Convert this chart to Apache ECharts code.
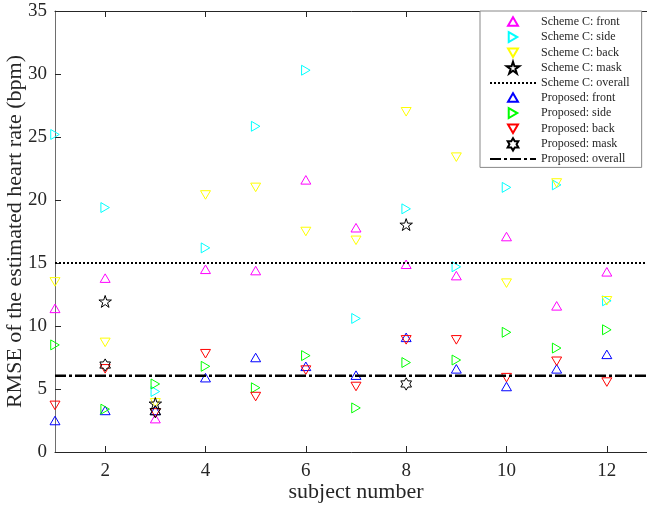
<!DOCTYPE html>
<html>
<head>
<meta charset="utf-8">
<script src="https://cdn.jsdelivr.net/npm/echarts@6/dist/echarts.min.js"></script>
<style>
  html, body { margin: 0; padding: 0; background: #fff; }
  #chart { width: 647px; height: 506px; }
</style>
</head>
<body>
<div id="chart"></div>
<script>
// subject numbers 1..12
const subjects = [1, 2, 3, 4, 5, 6, 7, 8, 9, 10, 11, 12]
const xTicks = [2, 4, 6, 8, 10, 12]

// RMSE (bpm)
const schemeFront = [11.4, 13.8, 2.65, 14.5, 14.4, 21.6, 17.8, 14.9, 14.0, 17.1, 11.6, 14.3]
const schemeSide = [25.2, 19.4, 4.8, 16.2, 25.85, 30.3, 10.6, 19.3, 14.7, 21.0, 21.2, 12.0]
const schemeBack = [13.5, 8.7, 3.9, 20.4, 21.0, 17.5, 16.8, 27.0, 23.4, 13.4, 21.35, 12.0]
const schemeMask = [null, 11.9, 3.8, null, null, null, null, 18.0, null, null, null, null]
const propFront = [2.5, 3.3, 3.3, 5.9, 7.5, 6.8, 6.1, 9.1, 6.6, 5.2, 6.6, 7.75]
const propSide = [8.5, 3.4, 5.4, 6.8, 5.1, 7.65, 3.5, 7.1, 7.3, 9.5, 8.25, 9.7]
const propBack = [3.7, 6.6, 3.1, 7.8, 4.4, 6.5, 5.2, 8.9, 8.9, 5.9, 7.2, 5.55]
const propMask = [null, 6.9, 3.2, null, null, null, null, 5.4, null, null, null, null]
const schemeOverall = 15.0
const propOverall = 6.05
const xRange = [1, 13]

const FONT = '"Liberation Serif", "Times New Roman", serif'
const AXIS = '#262626'

// all marker shapes live in the same 100x100 box (the two lone moveTo's pin the box),
// so plot markers and legend icons come out at the same scale
const BOX = 'M0 0 M100 100 '
function starPath (n, outer, inner) {
  const pts = []
  for (let i = 0; i < n * 2; i++) {
    const r = i % 2 === 0 ? outer : outer * inner
    const a = -Math.PI / 2 + i * Math.PI / n
    pts.push((50 + r * Math.cos(a)).toFixed(2) + ' ' + (50 + r * Math.sin(a)).toFixed(2))
  }
  return 'path://' + BOX + 'M' + pts.join(' L') + ' Z'
}
const pentagram = starPath(5, 47, 0.382)
const hexagram = starPath(6, 44, 1 / Math.sqrt(3))
const triUp = 'path://' + BOX + 'M14.5 80.5 L50 19.5 L85.5 80.5 Z'
const triRight = 'path://' + BOX + 'M19.5 14.5 L80.5 50 L19.5 85.5 Z'
const triDown = 'path://' + BOX + 'M14.5 19.5 L85.5 19.5 L50 80.5 Z'

const pairs = vals => subjects.map((s, i) => [s, vals[i]]).filter(p => p[1] !== null)

const markers = [
  { name: 'Scheme C: front', vals: schemeFront, color: '#ff00ff', symbol: triUp },
  { name: 'Scheme C: side', vals: schemeSide, color: '#00ffff', symbol: triRight },
  { name: 'Scheme C: back', vals: schemeBack, color: '#ffff00', symbol: triDown },
  { name: 'Scheme C: mask', vals: schemeMask, color: '#000000', symbol: pentagram },
  { name: 'Proposed: front', vals: propFront, color: '#0000ff', symbol: triUp },
  { name: 'Proposed: side', vals: propSide, color: '#00ff00', symbol: triRight },
  { name: 'Proposed: back', vals: propBack, color: '#ff0000', symbol: triDown },
  { name: 'Proposed: mask', vals: propMask, color: '#000000', symbol: hexagram }
]

const series = markers.map(m => ({
  name: m.name,
  type: 'scatter',
  data: pairs(m.vals),
  symbol: m.symbol,
  symbolSize: 14,
  symbolKeepAspect: true,
  clip: false,
  itemStyle: { color: 'transparent', borderColor: m.color, borderWidth: 1, opacity: 1 }
}))

series.splice(4, 0, {
  name: 'Scheme C: overall',
  type: 'line',
  data: xRange.map(x => [x, schemeOverall]),
  symbol: 'none',
  itemStyle: { color: 'rgba(0,0,0,0)', borderWidth: 0 },
  lineStyle: { color: '#000', width: 2.2, type: [2, 2] }
})
series.push({
  name: 'Proposed: overall',
  type: 'line',
  data: xRange.map(x => [x, propOverall]),
  symbol: 'none',
  itemStyle: { color: 'rgba(0,0,0,0)', borderWidth: 0 },
  lineStyle: { color: '#000', width: 2.5, type: [11, 3, 3, 3] }
})

const chart = echarts.init(document.getElementById('chart'))
chart.setOption({
  animation: false,
  textStyle: { fontFamily: FONT },
  grid: { left: 55, top: 11, right: -10, bottom: 54, outerBoundsMode: 'none', containLabel: false },
  legend: {
    orient: 'vertical',
    left: 480,
    top: 11,
    itemWidth: 46,
    itemHeight: 14,
    itemGap: -0.4,
    padding: [2.5, 12, 1.5, 9],
    backgroundColor: '#fff',
    borderColor: '#888',
    borderWidth: 1,
    textStyle: { fontFamily: FONT, fontSize: 12, color: AXIS, lineHeight: 14 },
    data: series.map(s => s.name)
  },
  xAxis: [
    {
      type: 'value',
      min: xRange[0],
      max: xRange[1],
      name: 'subject number',
      nameLocation: 'middle',
      nameGap: 29,
      nameMoveOverlap: false,
      nameTextStyle: { fontFamily: FONT, fontSize: 22, color: AXIS },
      axisLine: { lineStyle: { color: AXIS } },
      axisTick: { inside: true, length: 6, customValues: xTicks, lineStyle: { color: AXIS } },
      axisLabel: { customValues: xTicks, fontFamily: FONT, fontSize: 19, color: AXIS, margin: 10 },
      splitLine: { show: false }
    },
    {
      type: 'value',
      position: 'top',
      min: xRange[0],
      max: xRange[1],
      axisLine: { lineStyle: { color: AXIS } },
      axisTick: { inside: true, length: 6, customValues: xTicks, lineStyle: { color: AXIS } },
      axisLabel: { show: false },
      splitLine: { show: false }
    }
  ],
  yAxis: {
    type: 'value',
    min: 0,
    max: 35,
    interval: 5,
    name: 'RMSE of the estimated heart rate (bpm)',
    nameLocation: 'middle',
    nameGap: 29,
    nameMoveOverlap: false,
    nameTextStyle: { fontFamily: FONT, fontSize: 22, color: AXIS },
    axisLine: { show: true, lineStyle: { color: '#6e6e6e' } },
    axisTick: { show: true, inside: true, length: 6, lineStyle: { color: AXIS } },
    axisLabel: { fontFamily: FONT, fontSize: 19, color: AXIS, margin: 8 },
    splitLine: { show: false }
  },
  series: series
})
</script>
</body>
</html>
